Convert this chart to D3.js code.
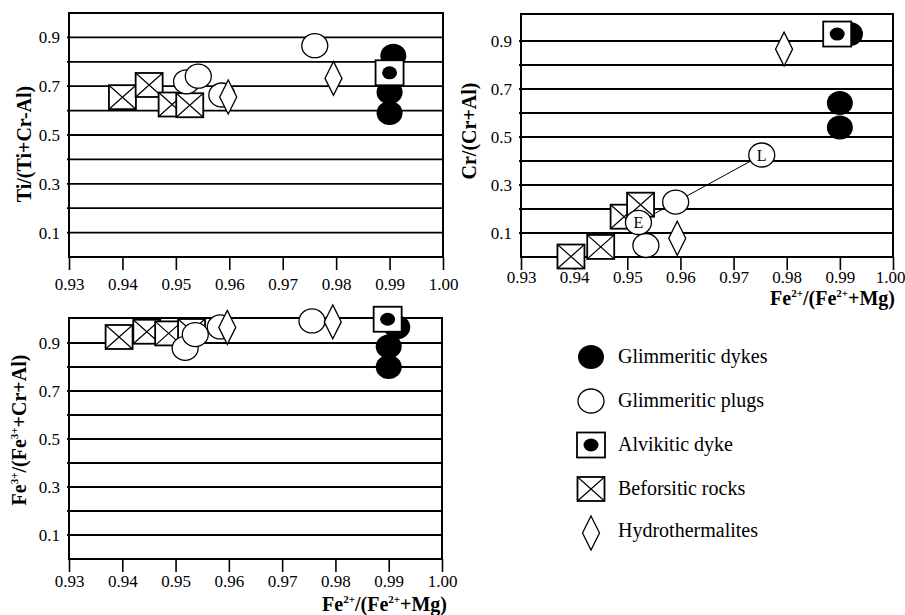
<!DOCTYPE html>
<meta charset="utf-8">
<style>

body {
  margin: 0;
  background: #fff;
}

svg {
  display: block;
  font-family: "Liberation Serif", "Times New Roman", serif;
}

.grid {
  stroke: #000;
  stroke-width: 1.8;
}

.frame {
  fill: none;
  stroke: #000;
  stroke-width: 2;
}

.tick line {
  stroke: #000;
  stroke-width: 1.6;
}

.title {
  font-size: 20px;
  font-weight: bold;
}

.legend text {
  font-size: 20px;
}

</style>
<svg width="905" height="615"></svg>
<script src="https://d3js.org/d3.v7.min.js"></script>
<script>

const xTicks = [0.93, 0.94, 0.95, 0.96, 0.97, 0.98, 0.99, 1.00];
const yTicks = [0.1, 0.3, 0.5, 0.7, 0.9];
const gridValues = [0.1, 0.2, 0.3, 0.4, 0.5, 0.6, 0.7, 0.8, 0.9];
const groupNames = ["Glimmeritic dykes", "Glimmeritic plugs", "Alvikitic dyke", "Beforsitic rocks", "Hydrothermalites"];
const groupKinds = ["dyke", "plug", "alvikite", "beforsite", "hydro"];

// Ti/(Ti+Cr-Al) vs Fe2+/(Fe2++Mg)
const tiDykes = [[0.9907, 0.825], [0.99, 0.675], [0.99, 0.59]];
const tiPlugs = [[0.952, 0.718], [0.9542, 0.741], [0.9586, 0.664], [0.976, 0.866]];
const tiAlvikite = [[0.99, 0.755]];
const tiBeforsite = [[0.94, 0.655], [0.945, 0.705], [0.9493, 0.625], [0.9526, 0.622]];
const tiHydro = [[0.9598, 0.656], [0.9795, 0.732]];

// Cr/(Cr+Al) vs Fe2+/(Fe2++Mg)
const crDykes = [[0.9919, 0.929], [0.99, 0.642], [0.99, 0.54]];
const crPlugs = [[0.9535, 0.048], [0.9591, 0.229], [0.9521, 0.144], [0.9753, 0.425]];
const crAlvikite = [[0.9895, 0.929]];
const crBeforsite = [[0.9394, 0.002], [0.945, 0.042], [0.9494, 0.168], [0.9525, 0.218]];
const crHydro = [[0.9594, 0.078], [0.9795, 0.866]];
const crTrend = [[0.9521, 0.144], [0.9753, 0.425]];
const crTrendLabels = ["E", "L"];

// Fe3+/(Fe3++Cr+Al) vs Fe2+/(Fe2++Mg)
const feDykes = [[0.9916, 0.966], [0.99, 0.885], [0.99, 0.80]];
const fePlugs = [[0.9518, 0.878], [0.9537, 0.935], [0.9584, 0.967], [0.9756, 0.992]];
const feAlvikite = [[0.9898, 0.999]];
const feBeforsite = [[0.9394, 0.925], [0.9446, 0.947], [0.9487, 0.94], [0.953, 0.95]];
const feHydro = [[0.9597, 0.965], [0.9795, 0.988]];

// title pieces: [text, superscript?]
const xTitle = [["Fe", 0], ["2+", 1], ["/(Fe", 0], ["2+", 1], ["+Mg)", 0]];
const tiTitle = [["Ti/(Ti+Cr-Al)", 0]];
const crTitle = [["Cr/(Cr+Al)", 0]];
const feTitle = [["Fe", 0], ["3+", 1], ["/(Fe", 0], ["3+", 1], ["+Cr+Al)", 0]];

const panels = [
  {left: 69, right: 443, bottom: 257, top: 13, frameTop: 13, labelPad: 8,
   yTitle: tiTitle, yTitleX: 31, yTitleY: 144, xTitlePos: null,
   dykes: tiDykes, plugs: tiPlugs, alvikite: tiAlvikite, beforsite: tiBeforsite, hydro: tiHydro},
  {left: 521, right: 893, bottom: 257, top: 17, frameTop: 14, labelPad: 1,
   yTitle: crTitle, yTitleX: 476, yTitleY: 131, xTitlePos: [895, 305], lastLabelShift: -3,
   dykes: crDykes, plugs: crPlugs, alvikite: crAlvikite, beforsite: crBeforsite, hydro: crHydro,
   trend: crTrend, trendLabels: crTrendLabels},
  {left: 69, right: 442, bottom: 559, top: 319, frameTop: 318, labelPad: 3,
   yTitle: feTitle, yTitleX: 26, yTitleY: 430, xTitlePos: [447, 611],
   dykes: feDykes, plugs: fePlugs, alvikite: feAlvikite, beforsite: feBeforsite, hydro: feHydro}
];

const svg = d3.select("svg");
const serif = "'Liberation Serif', 'Times New Roman', serif";

function addSymbol(g, kind) {
  if (kind === "dyke") {
    g.append("ellipse").attr("rx", 13).attr("ry", 12).attr("fill", "#000");
  } else if (kind === "plug") {
    g.append("ellipse").attr("rx", 13).attr("ry", 12)
      .attr("fill", "#fff").attr("stroke", "#000").attr("stroke-width", 1.3);
  } else if (kind === "alvikite") {
    g.append("rect").attr("x", -14).attr("y", -12.5).attr("width", 28).attr("height", 25)
      .attr("fill", "#fff").attr("stroke", "#000").attr("stroke-width", 1.8);
    g.append("ellipse").attr("rx", 7.5).attr("ry", 6.5).attr("fill", "#000");
  } else if (kind === "beforsite") {
    g.append("rect").attr("x", -13.5).attr("y", -12).attr("width", 27).attr("height", 24)
      .attr("fill", "#fff").attr("stroke", "#000").attr("stroke-width", 1.8);
    g.append("path").attr("d", "M-13.5,-12L13.5,12M13.5,-12L-13.5,12")
      .attr("stroke", "#000").attr("stroke-width", 1.2);
  } else if (kind === "hydro") {
    g.append("path").attr("d", "M0,-17L8.5,0L0,17L-8.5,0Z")
      .attr("fill", "#fff").attr("stroke", "#000").attr("stroke-width", 1.3);
  }
}

function addTitle(text, parts) {
  parts.forEach((p, i) => {
    if (p[1]) {
      text.append("tspan").attr("font-size", "55%").attr("dy", "-0.75em").text(p[0]);
    } else {
      const t = text.append("tspan").text(p[0]);
      if (i > 0) t.attr("dy", "0.41em");
    }
  });
}

function styleAxis(a) {
  a.attr("font-family", serif).attr("font-size", 17);
  a.selectAll("text").attr("fill", "#000");
  a.select(".domain").remove();
}

panels.forEach(p => {
  const x = d3.scaleLinear().domain([0.93, 1.00]).range([p.left, p.right]);
  const y = d3.scaleLinear().domain([0, 1]).range([p.bottom, p.top]);
  const g = svg.append("g");

  // horizontal grid
  g.selectAll(".grid")
    .data(gridValues)
    .enter().append("line")
    .attr("class", "grid")
    .attr("x1", p.left - 2)
    .attr("x2", p.right)
    .attr("y1", d => y(d))
    .attr("y2", d => y(d));

  g.append("rect")
    .attr("class", "frame")
    .attr("x", p.left)
    .attr("y", p.frameTop)
    .attr("width", p.right - p.left)
    .attr("height", p.bottom - p.frameTop);

  const xAxis = g.append("g")
    .attr("transform", "translate(0," + p.bottom + ")")
    .call(d3.axisBottom(x).tickValues(xTicks).tickFormat(d3.format(".2f"))
      .tickSize(13).tickPadding(p.labelPad))
    .call(styleAxis);
  if (p.lastLabelShift) {
    xAxis.selectAll(".tick text").filter(d => d === 1.00).attr("dx", p.lastLabelShift);
  }

  g.append("g")
    .attr("transform", "translate(" + p.left + ",0)")
    .call(d3.axisLeft(y).tickValues(yTicks).tickFormat(d3.format(".1f"))
      .tickSize(0).tickPadding(9))
    .call(styleAxis);

  const yt = g.append("text")
    .attr("class", "title")
    .attr("text-anchor", "middle")
    .attr("transform", "translate(" + p.yTitleX + "," + p.yTitleY + ") rotate(-90)");
  addTitle(yt, p.yTitle);

  if (p.xTitlePos) {
    const xt = g.append("text")
      .attr("class", "title")
      .attr("text-anchor", "end")
      .attr("x", p.xTitlePos[0])
      .attr("y", p.xTitlePos[1]);
    addTitle(xt, xTitle);
  }

  if (p.trend) {
    g.append("path")
      .attr("d", d3.line().x(d => x(d[0])).y(d => y(d[1]))(p.trend))
      .attr("fill", "none")
      .attr("stroke", "#000")
      .attr("stroke-width", 1);
  }

  ["beforsite", "plugs", "hydro", "dykes", "alvikite"].forEach(key => {
    const kind = key === "plugs" ? "plug" : key === "dykes" ? "dyke" : key;
    p[key].forEach(d => {
      const s = g.append("g").attr("transform", "translate(" + x(d[0]) + "," + y(d[1]) + ")");
      addSymbol(s, kind);
    });
  });

  if (p.trend) {
    g.selectAll(".trendlabel")
      .data(p.trend)
      .enter().append("text")
      .attr("class", "trendlabel")
      .attr("x", d => x(d[0]))
      .attr("y", d => y(d[1]) + 5.5)
      .attr("text-anchor", "middle")
      .attr("font-size", 16)
      .text((d, i) => p.trendLabels[i]);
  }
});

// legend
const legend = svg.append("g").attr("class", "legend");
groupNames.forEach((name, i) => {
  const cy = 357 + i * 44;
  const s = legend.append("g").attr("transform", "translate(591," + cy + ")");
  addSymbol(s, groupKinds[i]);
  legend.append("text")
    .attr("x", 618)
    .attr("y", cy + 5.5 - (i === 4 ? 2 : 0))
    .text(name);
});

</script>
